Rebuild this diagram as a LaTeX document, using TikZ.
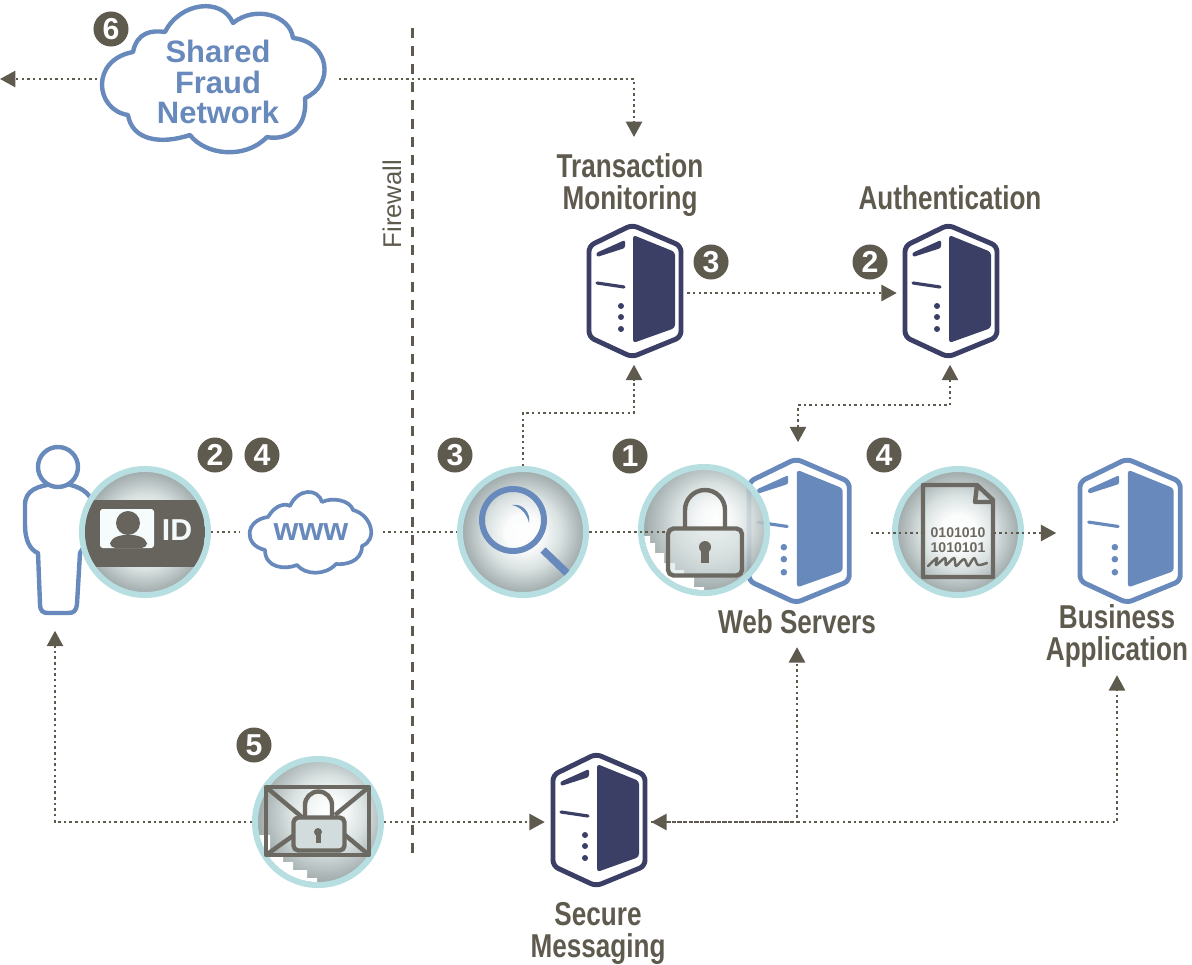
\documentclass[tikz,border=0pt]{standalone}
\usepackage{fontspec}
\setmainfont{Liberation Sans}
\newfontfamily\labelfont[FakeStretch=0.79]{Liberation Sans}
\usetikzlibrary{arrows.meta}

\definecolor{srvnavy}{HTML}{3B3F66}
\definecolor{srvblue}{HTML}{6889BB}
\definecolor{tagbrown}{HTML}{5F5A4E}
\definecolor{ringteal}{HTML}{B7DFE2}
\definecolor{iconbrown}{HTML}{6B6961}
\definecolor{lensedge}{HTML}{8E9A9B}
\definecolor{lensmid}{HTML}{D3DCDC}

\pgfdeclareradialshading{lensplain}{\pgfpoint{0bp}{0bp}}{color(0bp)=(white); color(7bp)=(white!90!lensmid); color(15bp)=(lensmid); color(25bp)=(lensedge); color(50bp)=(lensedge)}
\pgfdeclareradialshading{lenslit}{\pgfpoint{5bp}{5bp}}{color(0bp)=(white); color(7bp)=(white!75!lensmid); color(15bp)=(lensmid); color(27bp)=(lensedge); color(50bp)=(lensedge)}

\tikzset{
    link/.style={draw=tagbrown, line width=0.7pt, dash pattern=on 0.7pt off 0.9pt},
    linkto/.style={link, -{Triangle[length=4.4pt,width=4.6pt]}},
    linkboth/.style={link, {Triangle[length=4.4pt,width=4.6pt]}-{Triangle[length=4.4pt,width=4.6pt]}},
    lens/.style={circle, draw=ringteal, line width=1.7pt, minimum size=1.26cm, inner sep=0pt, shade, shading=lensplain, fill opacity=0.88},
    tag/.style={circle, fill=tagbrown, text=white, minimum size=0.35cm, inner sep=0pt, font=\bfseries\fontsize{8.6}{8.6}\selectfont},
    srvbox/.style={minimum width=1.05cm, minimum height=1.42cm, inner sep=0pt},
    srvbig/.style={minimum width=1.44cm, minimum height=1.80cm, inner sep=0pt},
    caption/.style={text=tagbrown, align=center, inner sep=1pt, font=\labelfont\bfseries\fontsize{9.4}{9.1}\selectfont},
    cloudtext/.style={text=srvblue, align=center, inner sep=0pt, font=\bfseries\fontsize{8.8}{8.6}\selectfont},
    outline/.style={draw=srvblue, line width=1.25pt, line join=round, fill=white},
    iconline/.style={draw=iconbrown, line width=1.25pt, line join=round}
}

% server tower, drawn round a named node
\newcommand{\srvicon}[3]{
    \begin{scope}[shift={(#1.center)}, scale=#2]
        \draw [#3, fill=white, line width=1.4pt, rounded corners=1.6pt] (-2,-68) -- (47,-47) -- (47,44) -- (-2,64) -- (-45,44) -- (-45,-47) -- cycle;
        \fill [#3, rounded corners=0.9pt] (-1,-58) -- (41,-41) -- (41,35) -- (-1,50) -- cycle;
        \fill [#3, rounded corners=0.6pt] (-38,-40) -- (-9,-53) -- (-9,-45) -- (-37,-36) -- cycle;
        \draw [#3, line width=0.9pt, line cap=round] (-37,-10) -- (-10,-6);
        \foreach \doty in {13,24,36}
            \fill [#3] (-13,\doty) circle (3);
    \end{scope}
}

\begin{document}
\begin{tikzpicture}[x=0.01cm, y=-0.01cm]
    \useasboundingbox (0,0) rectangle (1192,964);

    % person and clouds
    \node (userfig) [minimum width=0.7cm, minimum height=1.80cm, inner sep=0pt] at (55,540) {};
    \draw [outline] (53,484) .. controls (38,486) and (25,490) .. (25,505) -- (25,525) .. controls (25,540) and (30,550) .. (38,553) -- (40,604) .. controls (40,611) and (43,613) .. (48,613) -- (68,613) .. controls (74,613) and (76,611) .. (77,604) -- (80,553) -- (88,540) -- (92,500) .. controls (85,488) and (75,486) .. (63,483);
    \draw [outline] (58,467) circle (20);

    \draw [outline] (133,52) .. controls (137,32) and (152,30) .. (165,32)
        .. controls (180,2) and (222,-3) .. (233,23)
        .. controls (255,5) and (290,15) .. (293,38)
        .. controls (330,42) and (335,85) .. (305,98)
        .. controls (308,135) and (280,140) .. (267,137)
        .. controls (245,160) and (205,155) .. (190,135)
        .. controls (160,145) and (132,140) .. (128,115)
        .. controls (95,110) and (90,60) .. (133,52) -- cycle;
    \node (fraudnet) [cloudtext, minimum width=2.40cm] at (218,82) {Shared\\Fraud\\Network};

    \draw [outline, line width=1.05pt] (268,517) .. controls (275,505) and (285,503) .. (290,506)
        .. controls (298,488) and (318,488) .. (322,502)
        .. controls (332,497) and (350,500) .. (353,510)
        .. controls (372,515) and (378,540) .. (362,546)
        .. controls (362,562) and (345,565) .. (336,564)
        .. controls (325,576) and (305,575) .. (297,565)
        .. controls (285,570) and (265,568) .. (265,550)
        .. controls (243,545) and (245,520) .. (268,517) -- cycle;
    \node (wwwcloud) [cloudtext, minimum width=1.42cm, font=\bfseries\fontsize{9.1}{9.1}\selectfont] at (311,532) {www};

    % servers
    \node (txsrv) [srvbox] at (634,293) {};
    \node (authsrv) [srvbox] at (950,293) {};
    \node (websrv) [srvbig] at (798,533) {};
    \node (bizsrv) [srvbig] at (1129,533) {};
    \node (securesrv) [srvbox] at (598,822) {};
    \srvicon{txsrv}{1}{srvnavy}
    \srvicon{authsrv}{1}{srvnavy}
    \srvicon{websrv}{1.09}{srvblue}
    \srvicon{bizsrv}{1.09}{srvblue}
    \srvicon{securesrv}{1}{srvnavy}

    % lenses
    \node (idlens) [lens] at (145,532) {};
    \node (maglens) [lens] at (523,532) {};
    \node (locklens) [lens, shading=lenslit] at (704,530) {};
    \node (doclens) [lens] at (958,532) {};
    \node (maillens) [lens, shading=lenslit] at (318,822) {};

    % rough edges of the two coarse lenses
    \begin{scope}
        \clip (704,530) circle (60);
        \fill [white] (640,536) -- (650,536) -- (650,543) -- (655,543) -- (655,553) -- (664,553) -- (664,563) -- (675,563) -- (675,570) -- (684,570) -- (684,577) -- (694,577) -- (694,587) -- (704,587) -- (704,600) -- (640,600) -- cycle;
    \end{scope}
    \begin{scope}
        \clip (318,822) circle (60);
        \fill [white] (255,835) -- (270,835) -- (270,853) -- (283,853) -- (283,862) -- (293,862) -- (293,870) -- (307,870) -- (307,878) -- (317,878) -- (317,890) -- (255,890) -- cycle;
    \end{scope}

    % captions
    \node (txlabel) [caption] at (630,185) {Transaction\\Monitoring};
    \node (authlabel) [caption] at (950,198) {Authentication};
    \node (weblabel) [caption] at (797,622) {Web Servers};
    \node (bizlabel) [caption] at (1117,636) {Business\\Application};
    \node (securelabel) [caption] at (598,933) {Secure\\Messaging};
    \node (fwlabel) [rotate=90, text=tagbrown, inner sep=0pt, font=\fontsize{7.3}{7.3}\selectfont] at (392,204) {Firewall};

    % firewall
    \coordinate (fwtop) at (412,28);
    \coordinate (fwbot) at (412,860);
    \draw [tagbrown, line width=0.85pt, dash pattern=on 2.85pt off 2.3pt] (fwtop) -- (fwbot);

    % id card
    \begin{scope}
        \clip (145,532) circle (60);
        \fill [iconbrown!95!black] (85,500) rectangle (205,567);
    \end{scope}
    \fill [white!88!ringteal, rounded corners=0.8pt] (100,509) rectangle (154,548);
    \fill [iconbrown!95!black] (128,523) circle (12);
    \fill [iconbrown!95!black, rounded corners=1.5pt] (110,548) -- (110,540) -- (120,535) -- (137,535) -- (147,540) -- (147,548) -- cycle;
    \node (idtext) [text=white!85!ringteal, inner sep=0pt, font=\bfseries\fontsize{8.6}{8.6}\selectfont] at (177,530) {ID};

    % magnifier
    \draw [srvblue, line width=1.7pt] (513,520) circle (31);
    \draw [srvblue, line width=2.1pt] (543,550) -- (567,573);
    \fill [srvblue] (512,505) .. controls (522,503) and (531,512) .. (529,523) .. controls (527,514) and (521,507) .. (512,505) -- cycle;

    % padlock
    \draw [iconline] (685,528) -- (685,510) arc [start angle=180, end angle=360, radius=20] -- (725,528);
    \node (lockbody) [iconline, draw, fill=lensmid, fill opacity=0.5, rounded corners=1.6pt, minimum width=0.74cm, minimum height=0.47cm, inner sep=0pt] at (705,552) {};
    \fill [iconbrown] (705,547) circle (6);
    \fill [iconbrown] (701,547) rectangle (709,563);

    % document
    \node (docsheet) [minimum width=0.70cm, minimum height=0.92cm, inner sep=0pt] at (958,533) {};
    \draw [iconline] (923,485) -- (977,485) -- (993,500) -- (993,577) -- (923,577) -- cycle;
    \draw [iconline] (977,485) -- (975,502) -- (993,502);
    \node (docbits) [text=iconbrown, align=center, inner sep=0pt, font=\bfseries\fontsize{4}{4.3}\selectfont] at (958,540) {0101010\\1010101};
    \draw [iconbrown, line width=0.7pt, line cap=round, line join=round] plot [smooth] coordinates {(928,566) (937,558) (936,565) (945,558) (946,565) (954,558) (956,566) (964,559) (968,566) (974,558) (978,565) (987,563)};

    % envelope
    \draw [iconline] (266,787) rectangle (369,855);
    \draw [iconline] (266,787) -- (303,818) (369,787) -- (335,815) (266,855) -- (294,835) (369,855) -- (345,835);
    \draw [iconline] (305,818) -- (305,805) arc [start angle=180, end angle=360, radius=13.5] -- (332,818);
    \node (maillock) [iconline, draw, fill=lensmid, rounded corners=1.4pt, minimum width=0.51cm, minimum height=0.33cm, inner sep=0pt] at (319,834) {};
    \fill [iconbrown] (318,832) circle (4);
    \fill [iconbrown] (315.5,832) rectangle (320.5,843);

    % tags
    \node (tagfraud) [tag] at (111,29) {6};
    \node (tagtx) [tag] at (711,262) {3};
    \node (tagauth) [tag] at (870,262) {2};
    \node (tagid) [tag] at (215,455) {2};
    \node (tagwww) [tag] at (262,455) {4};
    \node (tagmag) [tag] at (455,455) {3};
    \node (taglock) [tag] at (630,456) {1};
    \node (tagdoc) [tag] at (884,455) {4};
    \node (tagmail) [tag] at (254,745) {5};

    % connectors
    \coordinate (fraudout) at (0,79);
    \coordinate (txin) at (634,137);
    \coordinate (txjoin) at (580,413);
    \coordinate (authjoin) at (870,405);
    \draw [linkto] (fraudnet.west |- fraudout) -- (fraudout);
    \draw [linkto] (fraudnet.east |- fraudout) -| (txin);
    \draw [linkto] (txsrv.east) -- (authsrv.west);
    \draw [linkto] (maglens.north) |- (txjoin) -| (txsrv.south);
    \draw [linkboth] (websrv.north) |- (authjoin) -| (authsrv.south);
    \draw [link] (idlens.east) -- (wwwcloud.west);
    \draw [link] (wwwcloud.east) -- (maglens.west);
    \draw [link] (maglens.east) -- (maglens.east -| lockbody.west);
    \draw [link] (websrv.east) -- (websrv.east -| docsheet.west);
    \draw [linkto] (websrv.east -| docsheet.east) -- (bizsrv.west);
    \draw [linkto] (maillens.west) -| (userfig.south);
    \draw [linkto] (maillens.east) -- (securesrv.west);
    \draw [linkboth, shorten >=2.5pt] (securesrv.east) -| (weblabel.south);
    \draw [linkto, shorten >=1pt] (securesrv.east) -| (bizlabel.south);
\end{tikzpicture}
\end{document}
